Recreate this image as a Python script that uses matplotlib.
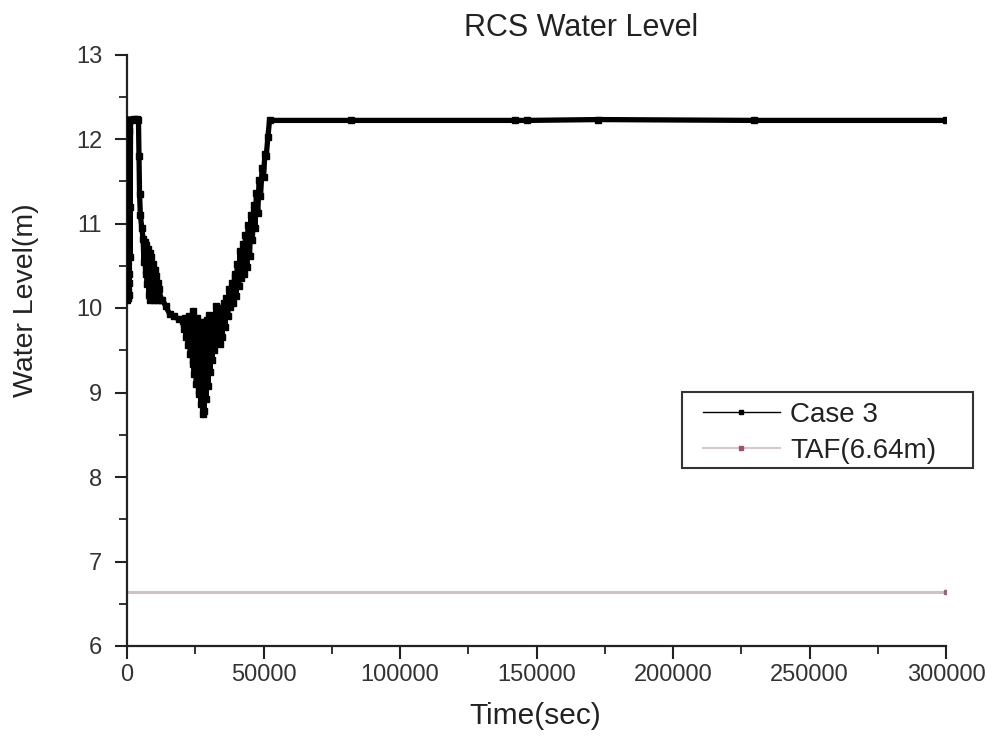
import matplotlib
matplotlib.use("Agg")
import matplotlib.pyplot as plt
from matplotlib.lines import Line2D
from matplotlib.patches import Rectangle
from matplotlib.ticker import MultipleLocator

plt.rcParams['font.family'] = ['Liberation Sans', 'DejaVu Sans']

# Case 3 RCS water level (time in s, level in m)
case3_time = [
    0, 80, 160, 240, 320, 400, 480, 560, 640, 720, 800, 880, 960, 1040, 1120, 1200, 1300,
    2500, 3800, 4200,
    4400, 4600, 4900, 5400, 5900,
    6200, 6500, 6800, 7100, 7400, 7700, 8000, 8300, 8600, 8900, 9200, 9500, 9800,
    10100, 10400, 10700, 11000, 11300, 11600, 11900, 12300, 13000,
    14200, 15600, 17200, 19000, 20400,
    20800, 21200, 21600, 22000, 22400, 22800, 23200, 23600, 24000, 24300, 24600,
    25000, 25400, 25800, 26200, 26600, 27000, 27300, 27700, 28000, 28300, 28700,
    29000, 29400, 29700, 30000, 30400, 30800, 31200, 31600, 32000, 32500, 32900,
    33400, 33900, 34400, 34900, 35400, 35900, 36400, 36900, 37400, 37900, 38400,
    38900, 39400, 39900, 40400, 40900, 41400, 41900, 42400, 42900, 43400, 43900,
    44400, 44900, 45400, 45900, 46400, 46900, 47400, 47900, 48400, 48900, 49500,
    50000, 50500, 51000, 51600, 52200,
    82000, 142300, 146700, 172700, 229800, 300000,
]
case3_level = [
    12.22, 10.10, 12.20, 10.20, 12.22, 10.12, 11.95, 10.30, 12.22, 10.15, 12.10, 10.40, 12.22, 10.60, 12.22, 11.20, 12.22,
    12.24, 12.24, 12.22,
    11.80, 11.35, 11.10, 10.95, 10.82,
    10.55, 10.78, 10.40, 10.74, 10.28, 10.70, 10.15, 10.65, 10.10, 10.60, 10.12, 10.52, 10.10,
    10.45, 10.12, 10.38, 10.10, 10.30, 10.12, 10.22, 10.10, 10.10,
    10.02, 9.93, 9.90, 9.87, 9.85,
    9.75, 9.88, 9.66, 9.86, 9.56, 9.90, 9.46, 9.86, 9.34, 9.96, 9.22,
    9.85, 9.10, 9.88, 8.98, 9.84, 8.86, 9.80, 8.74, 9.82, 8.78, 9.84,
    8.92, 9.86, 9.08, 9.92, 9.24, 9.85, 9.38, 9.90, 9.50, 10.02, 9.58,
    9.90, 9.57, 10.00, 9.66, 10.06, 9.78, 10.12, 9.90, 10.22, 10.01, 10.30,
    10.06, 10.40, 10.14, 10.52, 10.26, 10.68, 10.35, 10.76, 10.40, 10.86, 10.48,
    10.98, 10.62, 11.10, 10.80, 11.22, 10.95, 11.36, 11.12, 11.52, 11.32, 11.66,
    11.55, 11.82, 11.80, 12.02, 12.22,
    12.22, 12.22, 12.22, 12.23, 12.22, 12.22,
]

# Top of active fuel
taf_time = [0, 300000]
taf_level = [6.64, 6.64]

x_ticks = [0, 50000, 100000, 150000, 200000, 250000, 300000]
y_ticks = [6, 7, 8, 9, 10, 11, 12, 13]

fig = plt.figure(figsize=(9.9, 7.36), dpi=100)
ax = fig.add_axes([127 / 990, 1 - 646 / 736, 819 / 990, 591.5 / 736])

ax.plot(taf_time, taf_level, color='#cfc2c7', lw=2.2, marker='s', markersize=3.5,
        markevery=[1], markerfacecolor='#9c6476', markeredgecolor='#9c6476',
        solid_capstyle='butt', zorder=2)
ax.plot(case3_time, case3_level, color='black', lw=3.8, marker='s', markersize=4.5,
        markerfacecolor='black', markeredgecolor='black', zorder=3)

ax.set_xlim(0, 300000)
ax.set_ylim(6, 13)
ax.set_xticks(x_ticks)
ax.set_yticks(y_ticks)
ax.set_xticklabels([str(v) for v in x_ticks])
ax.set_yticklabels([str(v) for v in y_ticks])
ax.xaxis.set_minor_locator(MultipleLocator(25000))
ax.yaxis.set_minor_locator(MultipleLocator(0.5))

for side in ('top', 'right'):
    ax.spines[side].set_visible(False)
for side in ('left', 'bottom'):
    ax.spines[side].set_linewidth(1.6)
    ax.spines[side].set_color('#222222')

ax.tick_params(which='major', direction='out', length=9, width=1.5, color='#222222',
               labelsize=17, labelcolor='#333333')
ax.tick_params(axis='x', which='major', pad=4)
ax.tick_params(axis='y', which='major', pad=9)
ax.tick_params(which='minor', direction='out', length=6, width=1.3, color='#222222')

fig.text(581 / 990, 1 - 28 / 736, 'RCS Water Level', ha='center', va='center',
         fontsize=22, color='#222222')
fig.text(535 / 990, 1 - 716 / 736, 'Time(sec)', ha='center', va='center',
         fontsize=21.5, color='#222222')
fig.text(26 / 990, 1 - 300 / 736, 'Water Level(m)', ha='center', va='center',
         rotation=90, fontsize=20.5, color='#222222')

# Legend box drawn as a figure patch, entries placed inside it
fig.patches.append(Rectangle((682 / 990, 1 - 468 / 736), 291 / 990, 76 / 736,
                             transform=fig.transFigure, fill=False,
                             edgecolor='#333333', linewidth=1.5, zorder=5))
handles = [
    Line2D([0], [0], color='black', lw=1.0, marker='s', markersize=3.5,
           markerfacecolor='black', markeredgecolor='black'),
    Line2D([0], [0], color='#d6c9ce', lw=1.5, marker='s', markersize=3.5,
           markerfacecolor='#a0506a', markeredgecolor='#a0506a'),
]
leg = fig.legend(handles, ['Case 3', 'TAF(6.64m)'], loc='upper left',
                 bbox_to_anchor=(703 / 990, 1 - 402 / 736), bbox_transform=fig.transFigure,
                 borderaxespad=0, borderpad=0, fontsize=20, frameon=False,
                 handlelength=2.77, handletextpad=0.36, labelspacing=0.36)
for t in leg.get_texts():
    t.set_color('#222222')

fig.savefig('out.png', dpi=100)
